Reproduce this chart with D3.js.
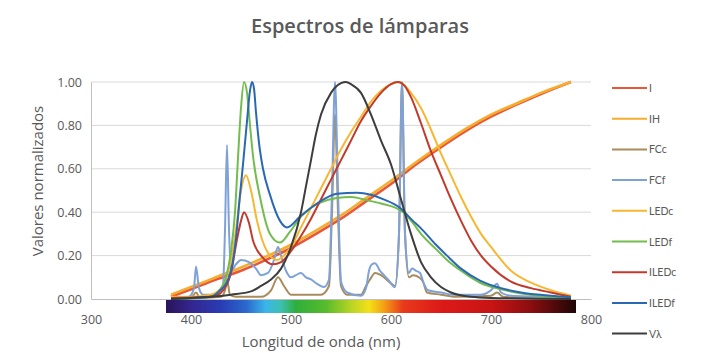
<!DOCTYPE html>
<html>
<head>
<meta charset="utf-8">
<script src="https://cdn.jsdelivr.net/npm/d3@7"></script>
<style>
  html, body { margin: 0; padding: 0; background: #ffffff; }
  svg { display: block; font-family: "Open Sans", Lato, sans-serif; }
</style>
</head>
<body>
<svg id="chart" width="704" height="353"></svg>
<script>
// Wavelength / normalized value pairs for each lamp spectrum
const seriesI = [[380,0.01],[400,0.045],[425,0.09],[450,0.13],[475,0.18],[500,0.235],[525,0.30],[550,0.37],[575,0.45],[600,0.53],[625,0.62],[650,0.70],[675,0.775],[700,0.84],[725,0.895],[750,0.945],[780,1.0]];
const seriesIH = [[380,0.02],[400,0.055],[425,0.10],[450,0.145],[475,0.195],[500,0.25],[525,0.315],[550,0.385],[575,0.465],[600,0.545],[625,0.63],[650,0.71],[675,0.785],[700,0.85],[725,0.90],[750,0.95],[780,1.0]];
const seriesFCc = [[380,0],[400,0.005],[405,0.03],[409,0.005],[430,0.01],[434,0.04],[436,0.09],[439,0.02],[445,0.01],[470,0.01],[480,0.04],[487,0.10],[493,0.06],[500,0.02],[530,0.02],[538,0.06],[541,0.4],[544,0.85],[547,0.4],[550,0.06],[556,0.02],[570,0.02],[575,0.06],[579,0.09],[584,0.12],[590,0.11],[598,0.08],[604,0.06],[608,0.3],[611,1.0],[614,0.3],[618,0.10],[622,0.11],[628,0.10],[632,0.08],[636,0.03],[650,0.02],[665,0.01],[700,0.015],[706,0.03],[712,0.01],[740,0.005],[780,0]];
const seriesFCf = [[380,0],[398,0.01],[403,0.05],[405,0.15],[408,0.05],[412,0.02],[428,0.02],[432,0.06],[434,0.32],[436,0.71],[438,0.32],[440,0.13],[445,0.16],[450,0.18],[458,0.17],[465,0.14],[470,0.11],[477,0.12],[483,0.18],[487,0.24],[490,0.20],[495,0.13],[500,0.10],[505,0.11],[510,0.12],[515,0.10],[520,0.09],[526,0.07],[533,0.055],[538,0.09],[541,0.5],[544,1.0],[547,0.5],[550,0.08],[556,0.03],[570,0.015],[575,0.05],[578,0.13],[581,0.16],[584,0.165],[586,0.155],[589,0.13],[593,0.11],[597,0.09],[604,0.055],[608,0.3],[611,1.0],[614,0.3],[618,0.12],[621,0.14],[625,0.13],[629,0.12],[633,0.07],[637,0.04],[650,0.03],[662,0.02],[690,0.02],[700,0.04],[706,0.07],[710,0.03],[720,0.015],[750,0.01],[780,0]];
const seriesLEDc = [[380,0.01],[400,0.01],[420,0.02],[430,0.05],[440,0.18],[445,0.32],[450,0.50],[455,0.57],[460,0.50],[466,0.36],[476,0.22],[486,0.18],[495,0.21],[500,0.24],[510,0.33],[520,0.42],[530,0.51],[540,0.60],[550,0.69],[560,0.77],[570,0.84],[580,0.91],[590,0.96],[600,0.99],[606,1.0],[612,0.99],[620,0.95],[630,0.88],[640,0.78],[650,0.67],[660,0.57],[670,0.47],[680,0.38],[690,0.30],[700,0.24],[720,0.13],[740,0.075],[760,0.04],[780,0.015]];
const seriesLEDf = [[380,0],[410,0.005],[420,0.01],[429,0.04],[435,0.10],[440,0.22],[444,0.40],[447,0.65],[450,0.88],[453,1.0],[456,0.95],[459,0.80],[462,0.66],[469,0.47],[479,0.30],[489,0.26],[499,0.31],[510,0.38],[520,0.42],[530,0.445],[546,0.465],[560,0.47],[576,0.455],[590,0.44],[609,0.41],[622,0.35],[630,0.30],[645,0.23],[656,0.18],[670,0.13],[689,0.075],[710,0.045],[739,0.02],[780,0.005]];
const seriesILEDc = [[380,0.005],[420,0.01],[430,0.03],[440,0.12],[445,0.25],[450,0.36],[453,0.40],[458,0.35],[462,0.27],[472,0.19],[482,0.16],[490,0.17],[500,0.22],[510,0.29],[520,0.37],[530,0.46],[540,0.55],[550,0.64],[560,0.73],[570,0.82],[580,0.89],[590,0.95],[600,0.99],[607,1.0],[614,0.98],[620,0.93],[630,0.81],[640,0.68],[650,0.57],[660,0.46],[670,0.36],[680,0.27],[690,0.20],[700,0.15],[720,0.08],[740,0.05],[760,0.03],[780,0.01]];
const seriesILEDf = [[380,0],[420,0.01],[429,0.04],[435,0.07],[440,0.13],[445,0.28],[449,0.48],[452,0.62],[456,0.82],[459,0.96],[461,1.0],[463,0.97],[465,0.86],[468,0.72],[472,0.60],[479,0.48],[489,0.36],[496,0.33],[509,0.38],[526,0.44],[546,0.485],[566,0.49],[580,0.48],[592,0.46],[609,0.42],[622,0.36],[629,0.33],[645,0.25],[656,0.20],[670,0.14],[689,0.085],[710,0.05],[730,0.03],[760,0.015],[780,0.008]];
const seriesVA = [[380,0],[400,0.005],[420,0.01],[440,0.02],[460,0.035],[470,0.06],[480,0.09],[490,0.14],[500,0.24],[510,0.40],[515,0.52],[520,0.64],[525,0.76],[530,0.85],[540,0.95],[550,0.995],[555,1.0],[560,0.99],[570,0.95],[580,0.85],[590,0.73],[600,0.62],[610,0.46],[620,0.30],[630,0.17],[640,0.10],[650,0.055],[660,0.03],[680,0.01],[700,0.005],[780,0]];

const seriesNames = ["I", "IH", "FCc", "FCf", "LEDc", "LEDf", "ILEDc", "ILEDf", "Vλ"];
const seriesColors = ["#e8573a", "#f6ad2e", "#a98b5c", "#7ea2d8", "#f7b733", "#72bd4e", "#c23a2c", "#2a68b4", "#3d3d3d"];
const seriesData = [seriesI, seriesIH, seriesFCc, seriesFCf, seriesLEDc, seriesLEDf, seriesILEDc, seriesILEDf, seriesVA];

const xTicks = [300, 400, 500, 600, 700, 800];
const yTicks = [0, 0.2, 0.4, 0.6, 0.8, 1.0];

// Visible-spectrum colour band below the axis
const bandRange = [375, 785];
const bandStops = [[375,"#2a1458"],[400,"#33268f"],[430,"#2a3cb4"],[455,"#2a68cc"],[475,"#3bb6ea"],[490,"#3cc0b0"],[505,"#2fae3c"],[535,"#58bb2c"],[560,"#b8d424"],[578,"#f4e018"],[592,"#f5a415"],[612,"#e83a1c"],[650,"#dc1a18"],[700,"#c81414"],[740,"#8a0e10"],[785,"#1e0606"]];

const svg = d3.select("#chart");
const x = d3.scaleLinear().domain([300, 800]).range([91, 591]);
const y = d3.scaleLinear().domain([0, 1]).range([299, 82]);
const textColor = "#595959";

// Title
svg.append("text").attr("x", 360).attr("y", 33).attr("text-anchor", "middle")
  .attr("font-size", 20).attr("font-weight", 600).attr("fill", textColor).text("Espectros de lámparas");

// Gridlines
svg.append("g").selectAll("line").data(yTicks.filter(d => d > 0)).join("line")
  .attr("x1", x(300)).attr("x2", x(800)).attr("y1", d => y(d)).attr("y2", d => y(d))
  .attr("stroke", "#d9d9d9").attr("stroke-width", 1);

// Y axis
const yAxis = svg.append("g").attr("transform", `translate(${x(300)},0)`)
  .call(d3.axisLeft(y).tickValues(yTicks).tickFormat(d3.format(".2f")).tickSize(0).tickPadding(9));
yAxis.select(".domain").attr("stroke", "#bfbfbf");
yAxis.selectAll("text").attr("font-size", 12.5).attr("fill", textColor).attr("font-family", "'Open Sans', sans-serif");

// Spectrum band
const defs = svg.append("defs");
const grad = defs.append("linearGradient").attr("id", "spectrum")
  .attr("gradientUnits", "userSpaceOnUse")
  .attr("x1", x(bandRange[0])).attr("x2", x(bandRange[1])).attr("y1", 0).attr("y2", 0);
grad.selectAll("stop").data(bandStops).join("stop")
  .attr("offset", d => (d[0] - bandRange[0]) / (bandRange[1] - bandRange[0]))
  .attr("stop-color", d => d[1]);
svg.append("rect").attr("x", x(bandRange[0])).attr("y", 300)
  .attr("width", x(bandRange[1]) - x(bandRange[0])).attr("height", 13)
  .attr("fill", "url(#spectrum)");

// X axis
const xAxis = svg.append("g").attr("transform", `translate(0,${y(0)})`)
  .call(d3.axisBottom(x).tickValues(xTicks).tickFormat(d3.format("d")).tickSize(0).tickPadding(16));
xAxis.select(".domain").attr("stroke", "#bfbfbf");
xAxis.selectAll("text").attr("font-size", 12.5).attr("fill", textColor).attr("font-family", "'Open Sans', sans-serif");

// Axis titles
svg.append("text").attr("x", 321).attr("y", 347).attr("text-anchor", "middle")
  .attr("font-size", 15).attr("fill", textColor).text("Longitud de onda (nm)");
svg.append("text").attr("transform", "translate(43,181) rotate(-90)").attr("text-anchor", "middle")
  .attr("font-size", 15).attr("fill", textColor).text("Valores normalizados");

// Spectra
const line = d3.line().x(d => x(d[0])).y(d => y(d[1])).curve(d3.curveMonotoneX);
svg.append("g").selectAll("path").data(seriesData).join("path")
  .attr("d", line).attr("fill", "none")
  .attr("stroke", (d, i) => seriesColors[i])
  .attr("stroke-width", (d, i) => i < 2 ? 2.6 : 2)
  .attr("stroke-linejoin", "round");

// Legend
const legend = svg.append("g").selectAll("g").data(seriesNames).join("g")
  .attr("transform", (d, i) => `translate(612,${88 + i * 30.7})`);
legend.append("line").attr("x1", 0).attr("x2", 35).attr("y1", 0).attr("y2", 0)
  .attr("stroke", (d, i) => seriesColors[i]).attr("stroke-width", 2);
legend.append("text").attr("x", 37).attr("y", 4).attr("font-size", 10.5)
  .attr("font-family", "Lato, sans-serif")
  .attr("fill", textColor).text(d => d);
</script>
</body>
</html>
